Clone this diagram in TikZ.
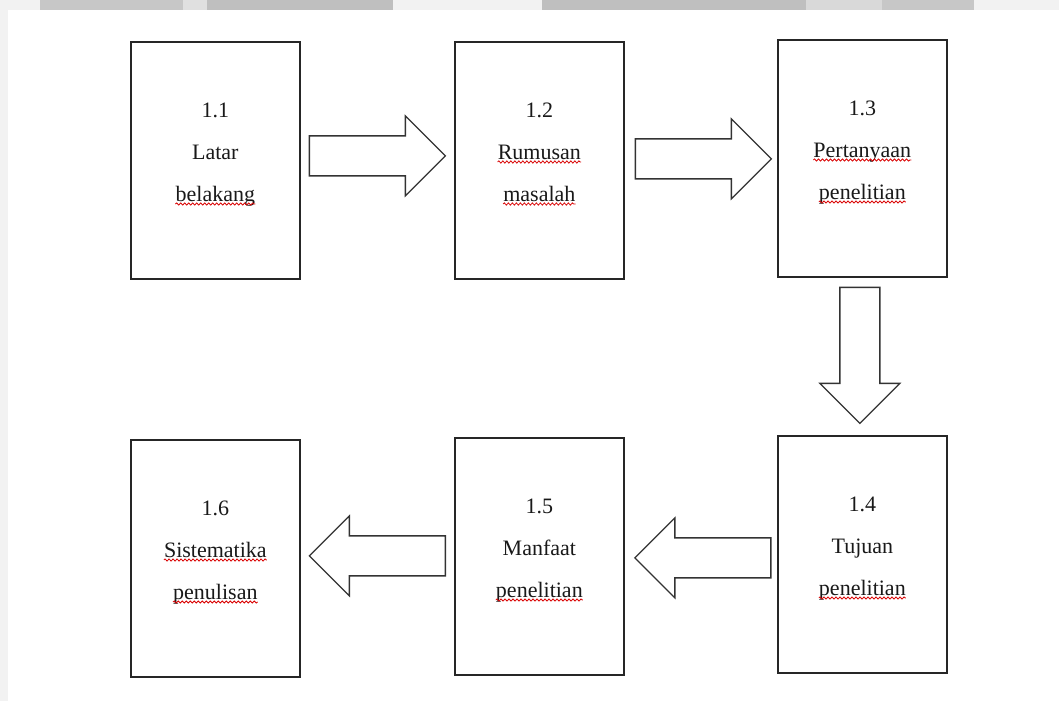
\documentclass[tikz,border=0pt]{standalone}
\usepackage{fontspec}
\setmainfont{Liberation Serif}
\usetikzlibrary{calc,decorations.pathmorphing}
\begin{document}
\begin{tikzpicture}[x=1pt,y=-1pt,
 box/.style={draw=black!85,line width=1.7pt,minimum width=169pt,minimum height=237pt,inner sep=0pt,anchor=north west},
 lbl/.style={anchor=base,inner sep=0pt,font=\fontsize{22}{26}\selectfont,text=black!90},
 barrow/.style={draw=black!80,line width=1.3pt,fill=white,line join=miter},
 squig/.style={draw=red!85!black,line width=0.8pt,decorate,decoration={snake,amplitude=1.1pt,segment length=4pt}}]
\useasboundingbox (0,0) rectangle (1059,701);
\fill[white] (0,0) rectangle (1059,701);
% faded background band
\fill[black!5] (0,0) rectangle (1059,10);
\fill[black!5] (0,0) rectangle (8,701);
\fill[black!22] (40,0) rectangle (183,10);
\fill[black!12] (183,0) rectangle (207,10);
\fill[black!25] (207,0) rectangle (393,10);
\fill[black!25] (542,0) rectangle (806,10);
\fill[black!15] (806,0) rectangle (882,10);
\fill[black!22] (882,0) rectangle (974,10);
\fill[white] (8,10) rectangle (1059,701);

% boxes
\node[box] (b1) at (130,41) {};
\node[box] (b2) at (454,41) {};
\node[box] (b3) at (777,39) {};
\node[box] (b4) at (777,435) {};
\node[box] (b5) at (454,437) {};
\node[box] (b6) at (130,439) {};

% labels
\node[lbl] (t1a) at ($(b1.north)+(0,76)$) {1.1};
\node[lbl] (t1b) at ($(b1.north)+(0,118)$) {Latar};
\node[lbl] (t1c) at ($(b1.north)+(0,160)$) {belakang};
\node[lbl] (t2a) at ($(b2.north)+(0,76)$) {1.2};
\node[lbl] (t2b) at ($(b2.north)+(0,118)$) {Rumusan};
\node[lbl] (t2c) at ($(b2.north)+(0,160)$) {masalah};
\node[lbl] (t3a) at ($(b3.north)+(0,76)$) {1.3};
\node[lbl] (t3b) at ($(b3.north)+(0,118)$) {Pertanyaan};
\node[lbl] (t3c) at ($(b3.north)+(0,160)$) {penelitian};
\node[lbl] (t4a) at ($(b4.north)+(0,76)$) {1.4};
\node[lbl] (t4b) at ($(b4.north)+(0,118)$) {Tujuan};
\node[lbl] (t4c) at ($(b4.north)+(0,160)$) {penelitian};
\node[lbl] (t5a) at ($(b5.north)+(0,76)$) {1.5};
\node[lbl] (t5b) at ($(b5.north)+(0,118)$) {Manfaat};
\node[lbl] (t5c) at ($(b5.north)+(0,160)$) {penelitian};
\node[lbl] (t6a) at ($(b6.north)+(0,76)$) {1.6};
\node[lbl] (t6b) at ($(b6.north)+(0,118)$) {Sistematika};
\node[lbl] (t6c) at ($(b6.north)+(0,160)$) {penulisan};

% spell-check squiggles
\foreach \n in {t1c,t2b,t2c,t3b,t3c,t4c,t5c,t6b,t6c}
  \draw[squig] ($(\n.base west)+(0,3)$) -- ($(\n.base east)+(0,3)$);

% block arrows
\draw[barrow,shift={($(b1.east)!0.5!(b2.west)+(0,-4.5)$)}]
  (-68,-20) -- (28,-20) -- (28,-40) -- (68,0) -- (28,40) -- (28,20) -- (-68,20) -- cycle;
\draw[barrow,shift={($(b2.east)!0.5!(b3.west)+(2.5,-0.5)$)}]
  (-68,-20) -- (28,-20) -- (28,-40) -- (68,0) -- (28,40) -- (28,20) -- (-68,20) -- cycle;
\draw[barrow,shift={($(b3.south)!0.5!(b4.north)+(-2.5,-1)$)},rotate=-90]
  (-68,-20) -- (28,-20) -- (28,-40) -- (68,0) -- (28,40) -- (28,20) -- (-68,20) -- cycle;
\draw[barrow,shift={($(b4.west)!0.5!(b5.east)+(2,2.5)$)},rotate=180]
  (-68,-20) -- (28,-20) -- (28,-40) -- (68,0) -- (28,40) -- (28,20) -- (-68,20) -- cycle;
\draw[barrow,shift={($(b5.west)!0.5!(b6.east)+(0,-1.5)$)},rotate=180]
  (-68,-20) -- (28,-20) -- (28,-40) -- (68,0) -- (28,40) -- (28,20) -- (-68,20) -- cycle;
\end{tikzpicture}
\end{document}
